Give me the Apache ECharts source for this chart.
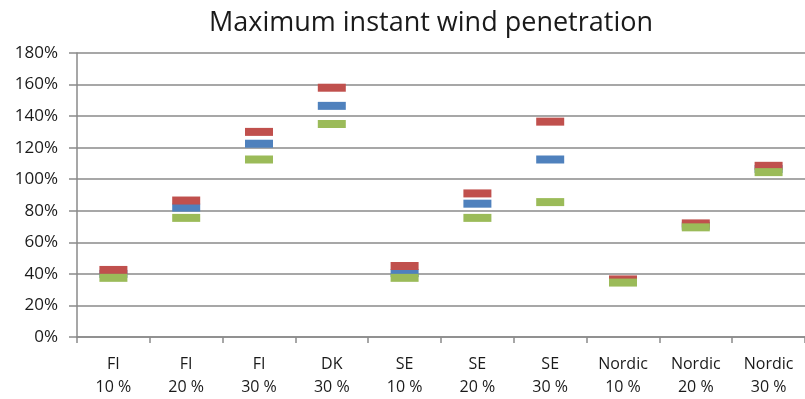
<!DOCTYPE html>
<html>
<head>
<meta charset="utf-8">
<script src="https://cdn.jsdelivr.net/npm/echarts@6/dist/echarts.min.js"></script>
<style>
  html, body { margin: 0; padding: 0; background: #fff; }
  #chart { width: 805px; height: 399px; }
</style>
</head>
<body>
<div id="chart"></div>
<script>
const categories = ['FI\n10 %', 'FI\n20 %', 'FI\n30 %', 'DK\n30 %', 'SE\n10 %', 'SE\n20 %', 'SE\n30 %', 'Nordic\n10 %', 'Nordic\n20 %', 'Nordic\n30 %']
// values in %
const redValues = [42.5, 86.5, 130, 158, 45, 91, 136.5, 36.5, 72, 108.5]
const blueValues = [40, 82, 122.5, 146.5, 40.5, 84.5, 112.5, 35.5, 70.5, 106.5]
const greenValues = [37.5, 75.5, 112.5, 135, 37.5, 75.5, 85.5, 34.5, 69.5, 104.5]
const yTicks = [0, 20, 40, 60, 80, 100, 120, 140, 160, 180]

const chart = echarts.init(document.getElementById('chart'))

const mark = (name, data, color, z) => ({
    name: name,
    type: 'scatter',
    data: data,
    symbol: 'rect',
    symbolSize: [28, 8],
    z: z,
    itemStyle: { color: color, opacity: 1 },
    emphasis: { disabled: true }
})

chart.setOption({
    animation: false,
    title: {
        text: 'Maximum instant wind penetration',
        left: 426,
        textAlign: 'center',
        top: 5,
        textStyle: {
            color: '#1a1a1a',
            fontSize: 27,
            fontWeight: 'normal',
            fontFamily: 'Open Sans'
        }
    },
    grid: {
        left: 77,
        right: -4,
        top: 53,
        bottom: 61,
        containLabel: false
    },
    xAxis: {
        type: 'category',
        data: categories,
        boundaryGap: true,
        axisLine: { lineStyle: { color: '#8a8a8a', width: 1.5 } },
        axisTick: { show: true, length: 6, lineStyle: { color: '#8a8a8a', width: 1.5 } },
        axisLabel: {
            color: '#1a1a1a',
            fontSize: 16,
            lineHeight: 23,
            margin: 16,
            fontFamily: 'Open Sans',
            interval: 0
        }
    },
    yAxis: {
        type: 'value',
        min: 0,
        max: 180,
        interval: 20,
        axisLine: { show: true, lineStyle: { color: '#8a8a8a', width: 1.5 } },
        axisTick: { show: true, length: 8, lineStyle: { color: '#8a8a8a', width: 1.5 } },
        splitLine: { lineStyle: { color: '#8a8a8a', width: 1.5 } },
        axisLabel: {
            color: '#1a1a1a',
            fontSize: 17,
            margin: 19,
            fontFamily: 'Open Sans',
            formatter: v => (yTicks.indexOf(v) >= 0 ? v + '%' : '')
        }
    },
    series: [
        mark('Blue', blueValues, '#4F81BD', 2),
        mark('Red', redValues, '#C0504D', 3),
        mark('Green', greenValues, '#9BBB59', 4)
    ]
})
</script>
</body>
</html>
